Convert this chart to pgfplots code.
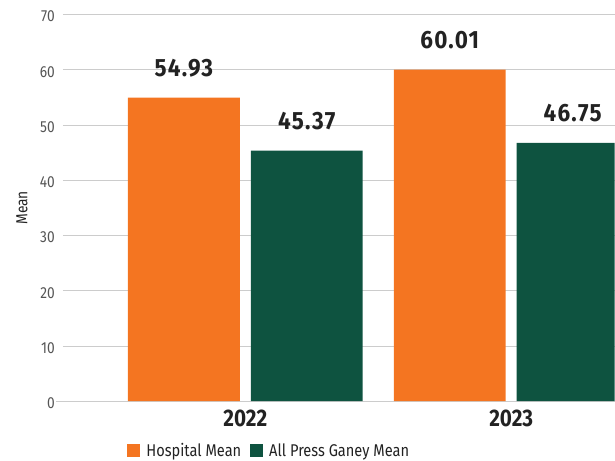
\documentclass[border=0pt]{standalone}
\usepackage{fontspec}
\setmainfont{Fira Sans}[FakeStretch=0.86]
\newfontfamily\valfont{Fira Sans}[FakeStretch=0.9, LetterSpace=5]
\usepackage{pgfplots}
\pgfplotsset{compat=1.18}
\definecolor{hosp}{HTML}{F47521}
\definecolor{pg}{HTML}{0E5340}
\definecolor{gridc}{HTML}{CCCCCC}
\definecolor{tickc}{HTML}{555555}
\definecolor{valc}{HTML}{222222}
\begin{document}
\begin{tikzpicture}
\begin{axis}[
  scale only axis,
  width=552bp, height=387bp,
  xmin=-0.686, xmax=1.389,
  ymin=0, ymax=70,
  ytick={0,10,...,70},
  xtick={0,1}, xticklabels={2022,2023},
  ymajorgrids, grid style={gridc, line width=0.8bp},
  axis x line*=bottom, axis y line*=left,
  x axis line style={draw=gridc, line width=0.8bp, shorten <=-7bp, -},
  y axis line style={draw=none, -},
  major tick length=0pt,
  ybar, bar width=0.421,
  /pgf/number format/assume math mode=true,
  yticklabel style={font=\fontsize{16bp}{18bp}\selectfont, text=tickc, anchor=east, inner sep=0pt, xshift=-8bp, yshift=-2bp},
  xticklabel style={font=\fontsize{24bp}{28bp}\selectfont\bfseries, text=valc, anchor=base, inner sep=0pt, yshift=-25.5bp},
  ylabel={Mean},
  ylabel style={at={(rel axis cs:0,0.5)}, yshift=41bp, anchor=center, font=\fontsize{16bp}{18bp}\selectfont, text=valc},
  nodes near coords={\pgfmathprintnumber[fixed,fixed zerofill,precision=2]{\pgfplotspointmeta}},
  every node near coord/.append style={font=\fontsize{25bp}{29bp}\selectfont\valfont\bfseries, text=valc, anchor=base, inner sep=0pt, yshift=21bp},
  legend style={at={(rel axis cs:0.374,0)}, anchor=center, yshift=-49.5bp, draw=none, fill=none,
    font=\fontsize{17bp}{19bp}\selectfont, text=valc, inner sep=0pt,
    /tikz/every odd column/.append style={column sep=4bp},
    /tikz/every even column/.append style={column sep=7bp}},
  legend columns=-1,
  legend image code/.code={\fill[#1] (0bp,-6.5bp) rectangle (13bp,6.5bp);},
]
\addplot[fill=hosp, draw=none, bar shift=-0.231] coordinates {(0,54.93) (1,60.01)};
\addplot[fill=pg, draw=none, bar shift=0.231] coordinates {(0,45.37) (1,46.75)};
\legend{Hospital Mean, All Press Ganey Mean}
\end{axis}
\path (current axis.south west) ++(-63bp,-59.5bp);
\path ([yshift=14.5bp]current axis.north east);
\end{tikzpicture}
\end{document}
